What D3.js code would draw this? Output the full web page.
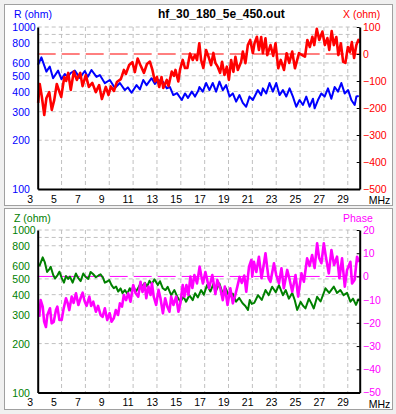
<!DOCTYPE html>
<html>
<head>
<meta charset="utf-8">
<script src="https://cdn.jsdelivr.net/npm/d3@7"></script>
<style>
  body { margin: 0; background: #f0f0f0; }
  svg { display: block; font-family: "Liberation Sans", Arial, sans-serif; }
</style>
</head>
<body>
<svg id="chart" width="396" height="414"></svg>
<script>
// Tick values
const freqTicks = [3, 5, 7, 9, 11, 13, 15, 17, 19, 21, 23, 25, 27, 29];
const logTicks = [100, 200, 300, 400, 500, 600, 800, 1000];
const logGrid = [200, 300, 400, 500, 600, 800, 900, 1000];
const xTicks = [100, 0, -100, -200, -300, -400, -500];
const phaseTicks = [20, 10, 0, -10, -20, -30, -40, -50];

// R (ohm) vs MHz
const seriesR = [[3.03,583],[3.31,650],[3.73,530],[4.01,570],[4.29,483],[4.71,538],[4.99,476],[5.27,512],[5.52,492],[5.77,520],[6.11,538],[6.53,485],[6.95,535],[7.2,492],[7.51,543],[7.93,492],[8.21,505],[8.63,450],[9.05,471],[9.47,420],[9.89,451],[10.31,408],[10.56,424],[10.87,393],[11.29,438],[11.57,412],[11.85,471],[12.13,438],[12.55,483],[12.83,445],[13.08,471],[13.5,460],[13.82,418],[14.09,426],[14.37,380],[14.68,391],[15.08,354],[15.35,389],[15.6,365],[15.92,399],[16.19,372],[16.47,405],[16.56,426],[16.84,399],[17.12,451],[17.4,408],[17.68,451],[17.96,399],[18.24,460],[18.52,408],[18.8,438],[19.08,372],[19.36,389],[19.64,346],[19.92,380],[20.2,340],[20.48,322],[20.76,372],[21.04,354],[21.46,408],[21.74,380],[21.88,418],[22.16,389],[22.44,451],[22.72,399],[23.0,451],[23.28,380],[23.56,408],[23.84,372],[24.12,418],[24.4,372],[24.68,322],[24.96,354],[25.24,330],[25.52,372],[25.8,322],[26.08,361],[26.22,315],[26.5,354],[26.78,389],[27.06,372],[27.34,418],[27.62,361],[27.9,426],[28.18,399],[28.46,451],[28.74,389],[29.03,408],[29.3,354],[29.58,330],[29.72,372],[29.92,375]];

// X (ohm) vs MHz
const seriesX = [[3.04,-181],[3.17,-111],[3.34,-156],[3.55,-226],[3.73,-163],[3.97,-141],[4.18,-207],[4.39,-170],[4.6,-111],[4.85,-144],[4.97,-159],[5.23,-85],[5.39,-100],[5.56,-70],[5.77,-133],[6.03,-65],[6.28,-96],[6.57,-70],[6.76,-119],[7.03,-78],[7.29,-122],[7.58,-107],[7.87,-141],[8.15,-115],[8.38,-167],[8.71,-122],[8.94,-152],[9.13,-120],[9.39,-137],[9.64,-104],[9.97,-93],[10.23,-59],[10.39,-74],[10.67,-41],[10.94,-30],[11.15,-67],[11.38,-17],[11.61,-41],[11.91,-70],[12.16,-37],[12.41,-28],[12.62,-59],[12.83,-102],[13.0,-85],[13.19,-122],[13.38,-85],[13.53,-126],[13.82,-96],[13.97,-119],[14.24,-65],[14.43,-81],[14.55,-59],[14.79,-102],[14.93,-59],[15.16,-22],[15.35,-52],[15.55,-52],[15.77,2],[16.0,-22],[16.19,-4],[16.36,-22],[16.55,40],[16.7,-22],[16.89,-52],[17.12,15],[17.33,-11],[17.54,-41],[17.73,4],[17.9,-33],[18.1,-48],[18.29,-70],[18.46,-29],[18.66,-78],[18.86,-47],[19.03,-96],[19.22,-22],[19.41,-66],[19.58,-10],[19.78,-59],[20.06,-29],[20.2,9],[20.42,-34],[20.62,33],[20.82,52],[21.04,3],[21.18,40],[21.38,64],[21.55,15],[21.74,63],[21.88,3],[22.1,58],[22.25,-4],[22.52,33],[22.75,-7],[22.94,40],[23.17,-53],[23.38,-22],[23.65,-59],[23.87,3],[24.09,-33],[24.34,9],[24.57,-53],[24.76,-22],[24.91,3],[25.18,-4],[25.41,-10],[25.61,52],[25.82,26],[26.03,64],[26.19,33],[26.4,93],[26.61,52],[26.87,83],[27.08,33],[27.29,59],[27.45,15],[27.65,85],[27.83,33],[28.04,63],[28.21,-4],[28.42,40],[28.61,-29],[28.8,-33],[29.01,26],[29.18,7],[29.34,44],[29.53,-15],[29.72,33],[29.89,52],[29.97,41]];

// Z (ohm) vs MHz
const seriesZ = [[3.13,597],[3.42,679],[3.59,635],[3.79,552],[3.98,575],[4.09,594],[4.3,528],[4.46,503],[4.67,528],[4.82,554],[5.01,507],[5.2,474],[5.37,521],[5.55,500],[5.7,517],[5.93,474],[6.2,540],[6.39,507],[6.6,485],[6.82,540],[7.02,514],[7.24,500],[7.44,552],[7.64,536],[7.88,512],[8.1,525],[8.27,534],[8.48,507],[8.63,474],[8.82,482],[9.0,492],[9.19,458],[9.38,438],[9.57,449],[9.75,418],[9.95,437],[10.11,409],[10.31,427],[10.51,405],[10.72,438],[10.87,418],[11.01,452],[11.23,418],[11.41,437],[11.62,469],[11.79,449],[11.98,474],[12.18,449],[12.37,487],[12.58,466],[12.79,497],[13.07,458],[13.25,484],[13.49,438],[13.71,427],[13.9,447],[14.19,397],[14.46,427],[14.69,390],[14.97,362],[15.22,389],[15.44,362],[15.72,397],[16.0,370],[16.2,408],[16.43,385],[16.7,427],[16.93,400],[17.2,458],[17.48,418],[17.75,469],[17.98,427],[18.23,469],[18.51,408],[18.77,437],[19.07,388],[19.36,406],[19.63,362],[19.9,382],[20.18,354],[20.41,341],[20.63,322],[20.78,371],[20.95,351],[21.16,356],[21.47,397],[21.79,371],[22.1,427],[22.37,397],[22.66,448],[22.96,414],[23.23,458],[23.56,397],[23.8,427],[24.06,378],[24.34,410],[24.55,371],[24.76,322],[25.05,361],[25.26,341],[25.45,329],[25.74,378],[25.93,356],[26.15,329],[26.43,388],[26.72,363],[27.13,438],[27.44,410],[27.83,448],[28.1,410],[28.38,427],[28.65,397],[28.94,410],[29.22,362],[29.44,378],[29.69,346],[29.92,378]];

// Phase (deg) vs MHz
const seriesPhase = [[3.13,-17.4],[3.25,-10.2],[3.42,-13.0],[3.54,-19.5],[3.69,-21.8],[3.81,-16.6],[4.03,-13.7],[4.17,-20.2],[4.34,-19.6],[4.53,-14.5],[4.65,-13.0],[4.82,-18.8],[5.01,-18.8],[5.15,-14.5],[5.37,-9.4],[5.51,-11.4],[5.65,-14.5],[5.85,-8.7],[6.01,-11.4],[6.21,-7.3],[6.41,-12.3],[6.6,-9.3],[6.77,-7.0],[6.93,-10.6],[7.1,-12.7],[7.33,-8.7],[7.48,-12.7],[7.66,-10.9],[7.88,-15.2],[8.06,-12.7],[8.27,-16.6],[8.44,-17.4],[8.63,-13.7],[8.83,-18.8],[9.03,-15.8],[9.19,-19.5],[9.39,-17.9],[9.55,-14.5],[9.74,-16.6],[9.89,-11.6],[10.07,-13.0],[10.22,-8.0],[10.41,-10.2],[10.59,-7.3],[10.78,-10.9],[11.01,-3.7],[11.2,-7.1],[11.43,-8.7],[11.62,-2.3],[11.79,-6.7],[11.98,-3.0],[12.1,-9.4],[12.29,-4.4],[12.46,-8.0],[12.58,-3.0],[12.73,-8.7],[12.93,-12.3],[13.13,-5.8],[13.29,-9.3],[13.5,-15.9],[13.69,-9.4],[13.88,-13.2],[14.05,-15.2],[14.19,-8.7],[14.38,-12.3],[14.61,-8.7],[14.8,-15.2],[14.97,-11.4],[15.16,-3.7],[15.3,-8.7],[15.47,-3.7],[15.64,-8.0],[15.8,-0.1],[15.97,-5.0],[16.14,0.6],[16.36,-3.0],[16.58,4.2],[16.72,0.2],[16.85,-3.0],[17.06,1.9],[17.37,-5.1],[17.64,0.6],[17.9,-7.6],[18.06,-1.5],[18.31,-5.1],[18.52,-10.2],[18.69,-4.4],[18.92,-12.3],[19.15,-5.1],[19.36,-11.6],[19.57,-8.0],[19.74,-4.4],[19.93,-0.2],[20.11,-2.8],[20.32,0.4],[20.49,-6.6],[20.72,4.2],[20.91,7.1],[20.99,-0.1],[21.13,6.3],[21.33,1.9],[21.55,8.5],[21.77,-0.8],[21.95,4.9],[22.1,10.0],[22.25,3.6],[22.36,-0.8],[22.52,-2.3],[22.81,5.7],[23.0,0.6],[23.23,-3.0],[23.44,3.5],[23.64,-5.1],[23.92,2.8],[24.13,-1.5],[24.34,-6.6],[24.62,0.6],[24.84,-8.7],[25.12,1.3],[25.32,-2.3],[25.59,7.8],[25.8,4.5],[26.01,9.2],[26.22,3.6],[26.43,14.3],[26.6,7.9],[26.79,5.7],[26.99,14.3],[27.18,7.9],[27.41,1.3],[27.63,11.4],[27.85,4.9],[28.1,8.5],[28.3,-0.8],[28.52,7.8],[28.75,-4.4],[28.94,2.8],[29.22,6.3],[29.36,-3.0],[29.57,-1.5],[29.78,8.5],[29.95,6.2]];

const svg = d3.select("#chart");
const fontSize = 10.5;

// Draws one of the two panels (log left axis, linear right axis)
function drawPanel(opt) {
    const g = svg.append("g");

    // panel frame
    g.append("rect")
        .attr("x", 4.5).attr("y", opt.frameTop + 0.5)
        .attr("width", 388).attr("height", opt.frameHeight)
        .attr("fill", "#fff").attr("stroke", "#a0a0a0");

    const x = d3.scaleLinear().domain([3, 30]).range([37.7, 359.7]);
    const yLeft = d3.scaleLog().domain([100, 1000]).range([opt.bottom, opt.top]);
    const yRight = d3.scaleLinear().domain(opt.rightDomain).range([opt.bottom, opt.top]);

    // grid
    g.append("g").selectAll("line")
        .data(freqTicks.slice(1))
        .join("line")
        .attr("x1", d => x(d)).attr("x2", d => x(d))
        .attr("y1", opt.top).attr("y2", opt.bottom)
        .attr("stroke", "#c0c0c0").attr("stroke-dasharray", "4,3");
    g.append("g").selectAll("line")
        .data(logGrid)
        .join("line")
        .attr("x1", x(3)).attr("x2", x(30))
        .attr("y1", d => yLeft(d)).attr("y2", d => yLeft(d))
        .attr("stroke", "#c0c0c0").attr("stroke-dasharray", "4,3");

    // zero line of the right axis
    g.append("line")
        .attr("x1", x(3)).attr("x2", x(30))
        .attr("y1", yRight(0)).attr("y2", yRight(0))
        .attr("stroke", opt.rightColor).attr("stroke-dasharray", "18,6");

    // curves
    const lineLeft = d3.line().x(d => x(d[0])).y(d => yLeft(d[1]));
    const lineRight = d3.line().x(d => x(d[0])).y(d => yRight(d[1]));
    g.append("path").datum(opt.leftData)
        .attr("d", lineLeft)
        .attr("fill", "none").attr("stroke", opt.leftColor)
        .attr("stroke-width", 2).attr("stroke-linejoin", "round");
    g.append("path").datum(opt.rightData)
        .attr("d", lineRight)
        .attr("fill", "none").attr("stroke", opt.rightColor)
        .attr("stroke-width", 2.6).attr("stroke-linejoin", "round");

    // bottom axis
    const axB = g.append("g")
        .attr("transform", `translate(0,${opt.bottom})`)
        .call(d3.axisBottom(x).tickValues(freqTicks).tickSize(0).tickSizeOuter(0).tickFormat(d3.format("d")));
    axB.attr("font-family", null).attr("font-size", fontSize);
    axB.select(".domain").attr("stroke", "#000").attr("stroke-width", 2);
    axB.selectAll("text")
        .attr("text-anchor", "start").attr("dx", -11)
        .attr("y", 13.7).attr("dy", 0).attr("fill", "#000");
    g.append("text")
        .attr("x", 368.7).attr("y", opt.bottom + 15.2)
        .attr("font-size", fontSize).text("MHz");

    // left axis
    const axL = g.append("g")
        .attr("transform", `translate(${x(3)},0)`)
        .call(d3.axisLeft(yLeft).tickValues(logTicks).tickSize(0).tickSizeOuter(0).tickFormat(d3.format("d")));
    axL.attr("font-family", null).attr("font-size", fontSize);
    axL.select(".domain").attr("stroke", "#000").attr("stroke-width", 2);
    axL.selectAll("text")
        .attr("text-anchor", "start").attr("x", 12.3 - x(3))
        .attr("dy", "0.35em").attr("fill", opt.leftColor);

    // right axis
    const axR = g.append("g")
        .attr("transform", `translate(${x(30)},0)`)
        .call(d3.axisRight(yRight).tickValues(opt.rightTicks).tickSize(-3).tickSizeOuter(0).tickPadding(3.3));
    axR.attr("font-family", null).attr("font-size", fontSize);
    axR.select(".domain").attr("stroke", "#000").attr("stroke-width", 2);
    axR.selectAll(".tick line").attr("stroke", "#000");
    axR.selectAll("text").attr("dy", "0.32em").attr("fill", opt.rightColor);

    // axis titles
    g.append("text")
        .attr("x", 14).attr("y", opt.titleY)
        .attr("font-size", fontSize).attr("fill", opt.leftColor)
        .text(opt.leftTitle);
    g.append("text")
        .attr("x", 343).attr("y", opt.titleY)
        .attr("font-size", fontSize).attr("fill", opt.rightColor)
        .text(opt.rightTitle);

    return g;
}

const topPanel = drawPanel({
    frameTop: 4, frameHeight: 201, top: 27, bottom: 189, titleY: 18.3,
    rightDomain: [-500, 100], rightTicks: xTicks,
    leftData: seriesR, rightData: seriesX,
    leftColor: "#0000ff", rightColor: "#ff0000",
    leftTitle: "R (ohm)", rightTitle: "X (ohm)"
});
topPanel.append("text")
    .attr("x", 158).attr("y", 18)
    .attr("font-size", 12).attr("font-weight", "bold")
    .text("hf_30_180_5e_450.out");

drawPanel({
    frameTop: 208, frameHeight: 201, top: 230, bottom: 392.5, titleY: 222,
    rightDomain: [-50, 20], rightTicks: phaseTicks,
    leftData: seriesZ, rightData: seriesPhase,
    leftColor: "#008000", rightColor: "#ff00ff",
    leftTitle: "Z (ohm)", rightTitle: "Phase"
});
</script>
</body>
</html>
